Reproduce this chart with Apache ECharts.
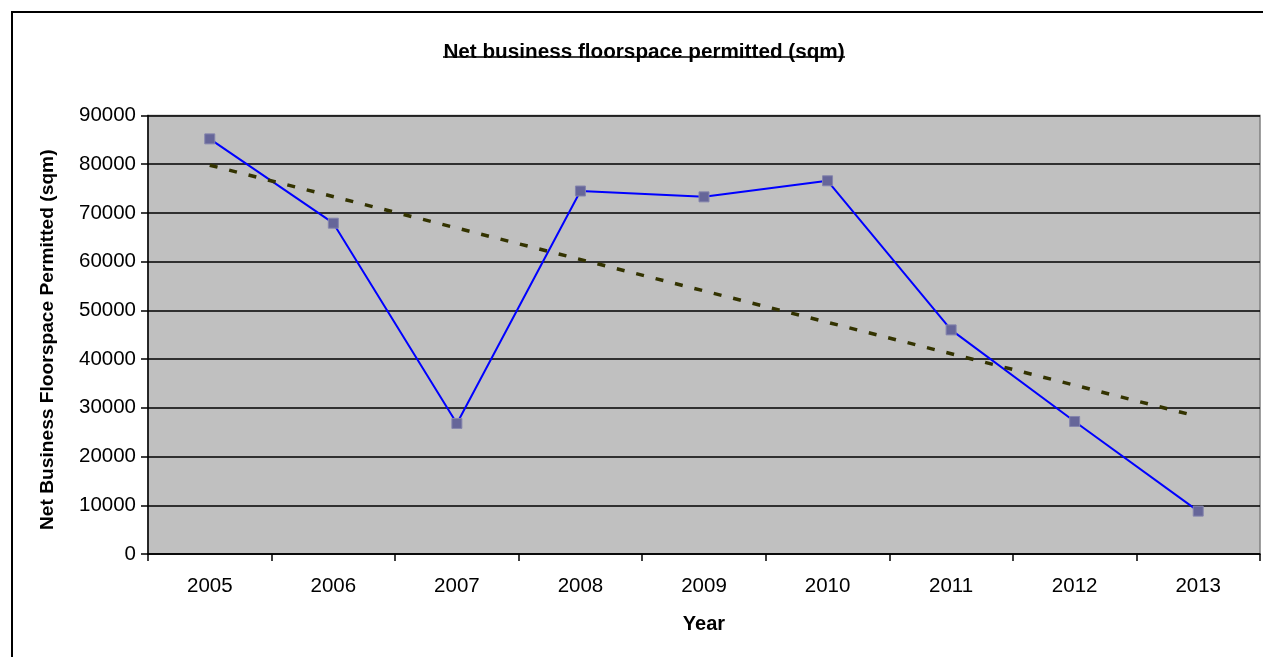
<!DOCTYPE html>
<html>
<head>
<meta charset="utf-8">
<script src="https://cdn.jsdelivr.net/npm/echarts@6/dist/echarts.min.js"></script>
<style>
html,body{margin:0;padding:0;background:#fff;}
#chart{width:1263px;height:657px;}
</style>
</head>
<body>
<div id="chart"></div>
<script>
var years = ['2005','2006','2007','2008','2009','2010','2011','2012','2013'];
var floorspace = [85200, 67900, 26800, 74500, 73300, 76600, 46000, 27200, 8800];
var trendYears = ['2005','2013'];
var trendValues = [79800, 28200];

var FONT = '"Liberation Sans", Arial, sans-serif';
var chart = echarts.init(document.getElementById('chart'), null, {renderer:'canvas'});
var option = {
  animation: false,
  backgroundColor: '#ffffff',
  title: {
    text: 'Net business floorspace permitted (sqm)',
    left: 639, top: 37, textAlign: 'center',
    textStyle: {fontFamily: FONT, fontSize: 20.7, fontWeight: 'bold', color: '#000'}
  },
  graphic: [
    {type:'rect', shape:{x:12, y:12, width:1300, height:700}, style:{fill:'none', stroke:'#000', lineWidth:2}, silent:true},
    {type:'line', shape:{x1:443, y1:57, x2:845, y2:57}, style:{stroke:'#000', lineWidth:1.5}, silent:true}
  ],
  grid: {
    left: 148, top: 115.5, right: 3, bottom: 103,
    show: true, backgroundColor: '#C0C0C0', borderColor: '#808080', borderWidth: 1.5
  },
  xAxis: {
    type: 'category', data: years, boundaryGap: true,
    name: 'Year', nameLocation: 'middle', nameGap: 60,
    nameTextStyle: {fontFamily: FONT, fontSize: 20, fontWeight: 'bold', color: '#000'},
    axisLine: {show: true, lineStyle: {color: '#000', width: 1.5}},
    axisTick: {show: true, alignWithLabel: false, length: 7, lineStyle: {color: '#000', width: 1.5}},
    axisLabel: {fontFamily: FONT, fontSize: 20.5, color: '#000', margin: 22}
  },
  yAxis: {
    type: 'value', min: 0, max: 90000, interval: 10000,
    name: 'Net Business Floorspace Permitted (sqm)', nameLocation: 'middle', nameGap: 91,
    nameTextStyle: {fontFamily: FONT, fontSize: 19.2, fontWeight: 'bold', color: '#000', padding: [0, 10, 0, 0]},
    axisLine: {show: true, lineStyle: {color: '#000', width: 1.5}},
    axisTick: {show: true, length: 7, lineStyle: {color: '#000', width: 1.5}},
    axisLabel: {fontFamily: FONT, fontSize: 20.5, color: '#000', margin: 12, formatter: function(v){ return String(v); }},
    splitLine: {show: true, lineStyle: {color: '#000', width: 1.5}}
  },
  series: [
    {
      type: 'line', data: floorspace, z: 3,
      lineStyle: {color: '#0000FF', width: 2},
      symbol: 'rect', symbolSize: 10,
      itemStyle: {color: '#666699', borderColor: '#8585AD', borderWidth: 1},
      emphasis: {disabled: true}
    },
    {
      type: 'line', z: 4,
      data: trendYears.map(function(y, i){ return [y, trendValues[i]]; }),
      symbol: 'none',
      lineStyle: {color: '#333300', width: 3.5, type: [8, 12]},
      emphasis: {disabled: true}
    }
  ]
};
chart.setOption(option);
</script>
</body>
</html>
